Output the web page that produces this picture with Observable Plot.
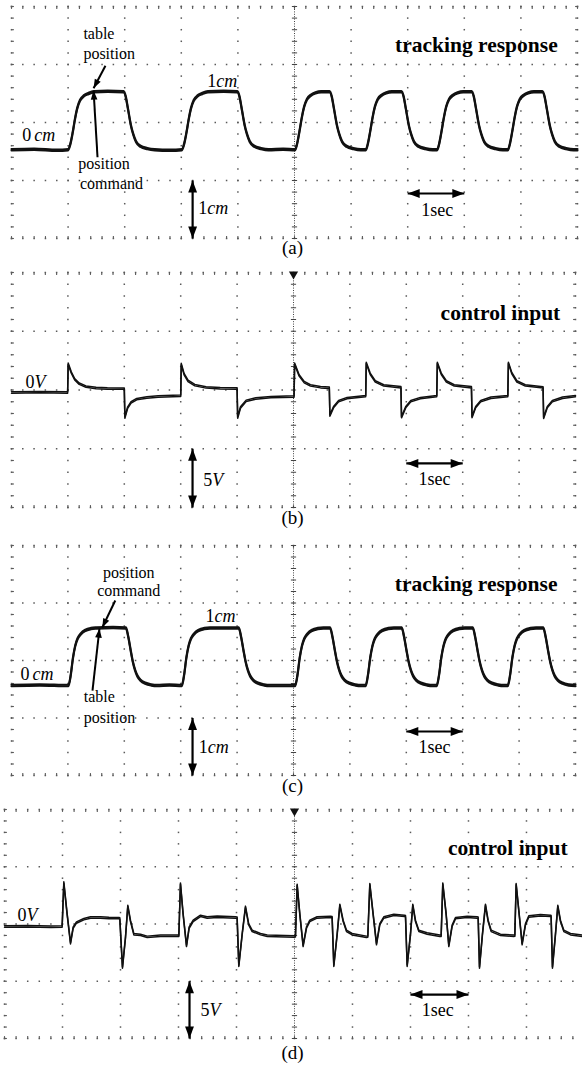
<!DOCTYPE html>
<html>
<head>
<meta charset="utf-8">
<script src="https://cdn.jsdelivr.net/npm/d3@7"></script>
<script src="https://cdn.jsdelivr.net/npm/@observablehq/plot@0.6"></script>
<style>
  body { margin: 0; background: #fff; }
  #chart { width: 582px; }
  #chart svg { display: block; }
</style>
</head>
<body>
<div id="chart"></div>
<script>
// ---------------- DATA ----------------
// time in seconds, position in cm
const trackA = [
  [0,0],[0.4,0.01],[0.8,-0.01],
  [1.0,0],[1.04,0.1],[1.08,0.29],[1.12,0.52],[1.16,0.71],[1.21,0.85],[1.28,0.93],[1.36,0.97],[1.46,1.0],[1.7,1.01],
  [1.98,1.0],[2.02,0.91],[2.05,0.75],[2.08,0.58],[2.11,0.42],[2.15,0.27],[2.2,0.14],[2.28,0.06],[2.4,0.02],[2.53,0],[2.8,-0.01],
  [3.01,0],[3.05,0.1],[3.09,0.29],[3.13,0.52],[3.17,0.71],[3.22,0.85],[3.29,0.93],[3.37,0.97],[3.47,1.0],[3.75,1.01],
  [3.99,1.0],[4.03,0.91],[4.06,0.75],[4.09,0.58],[4.12,0.42],[4.16,0.27],[4.21,0.14],[4.29,0.06],[4.41,0.02],[4.54,0],[4.8,0.01],
  [5.01,0],[5.05,0.12],[5.09,0.33],[5.13,0.56],[5.17,0.74],[5.22,0.87],[5.29,0.94],[5.37,0.98],[5.47,1.0],
  [5.62,1.0],[5.66,0.91],[5.69,0.75],[5.72,0.58],[5.75,0.42],[5.79,0.27],[5.84,0.14],[5.92,0.06],[6.04,0.02],[6.17,0],
  [6.26,0],[6.3,0.12],[6.34,0.33],[6.38,0.56],[6.42,0.74],[6.47,0.87],[6.54,0.94],[6.62,0.98],[6.72,1.0],
  [6.89,1.0],[6.93,0.91],[6.96,0.75],[6.99,0.58],[7.02,0.42],[7.06,0.27],[7.11,0.14],[7.19,0.06],[7.31,0.02],[7.44,0],
  [7.52,0],[7.56,0.12],[7.6,0.33],[7.64,0.56],[7.68,0.74],[7.73,0.87],[7.8,0.94],[7.88,0.98],[7.98,1.0],
  [8.13,1.0],[8.17,0.91],[8.2,0.75],[8.23,0.58],[8.26,0.42],[8.3,0.27],[8.35,0.14],[8.43,0.06],[8.55,0.02],[8.68,0],
  [8.77,0],[8.81,0.12],[8.85,0.33],[8.89,0.56],[8.93,0.74],[8.98,0.87],[9.05,0.94],[9.13,0.98],[9.23,1.0],
  [9.38,1.0],[9.42,0.91],[9.45,0.75],[9.48,0.58],[9.51,0.42],[9.55,0.27],[9.6,0.14],[9.68,0.06],[9.8,0.02],[9.93,0],[10,0]
];

// time in seconds, control voltage in V
const ctrlB = [
  [0,0],[0.5,0.03],[0.995,0],
  [1.005,2.45],[1.06,1.7],[1.12,1.13],[1.2,0.75],[1.32,0.5],[1.5,0.38],[1.7,0.34],[1.99,0.33],
  [2.0,0.33],[2.01,-2.13],[2.06,-1.28],[2.12,-0.85],[2.22,-0.57],[2.4,-0.43],[2.6,-0.34],[2.99,-0.28],
  [3.0,-0.28],[3.01,2.42],[3.06,1.56],[3.13,0.99],[3.25,0.62],[3.45,0.43],[3.7,0.36],[3.99,0.34],
  [4.0,0.34],[4.01,-2.13],[4.06,-1.28],[4.16,-0.71],[4.33,-0.51],[4.6,-0.4],[5.01,-0.34],
  [5.02,2.44],[5.1,1.45],[5.19,0.88],[5.3,0.6],[5.48,0.45],[5.635,0.4],
  [5.645,-1.96],[5.71,-1.25],[5.8,-0.74],[5.95,-0.48],[6.28,-0.31],
  [6.29,2.52],[6.36,1.59],[6.45,0.94],[6.6,0.6],[6.905,0.45],
  [6.915,-2.1],[6.99,-1.25],[7.08,-0.74],[7.25,-0.48],[7.54,-0.31],
  [7.55,2.52],[7.62,1.59],[7.71,0.94],[7.85,0.6],[8.155,0.45],
  [8.165,-2.1],[8.23,-1.25],[8.32,-0.74],[8.5,-0.45],[8.8,-0.31],
  [8.81,2.52],[8.87,1.65],[8.96,0.94],[9.11,0.6],[9.425,0.43],
  [9.435,-2.16],[9.5,-1.25],[9.59,-0.74],[9.77,-0.45],[10,-0.31]
];

// time in seconds, position in cm
const trackC = [
  [0,0],[0.5,0.01],[1.01,0],[1.05,0.18],[1.09,0.48],[1.13,0.69],[1.17,0.81],[1.23,0.9],[1.31,0.96],[1.41,0.99],[1.51,1.0],[1.8,1.01],
  [2.03,1.0],[2.07,0.85],[2.11,0.63],[2.15,0.42],[2.19,0.27],[2.23,0.17],[2.29,0.09],[2.37,0.04],[2.48,0.01],[2.58,0],[2.8,0.01],
  [3.02,0],[3.06,0.18],[3.1,0.48],[3.14,0.69],[3.18,0.81],[3.24,0.9],[3.32,0.96],[3.42,0.99],[3.52,1.0],[3.8,1.0],
  [4.03,1.0],[4.07,0.85],[4.11,0.63],[4.15,0.42],[4.19,0.27],[4.23,0.17],[4.29,0.09],[4.37,0.04],[4.48,0.01],[4.58,0],[4.8,0],
  [5.03,0],[5.07,0.18],[5.11,0.48],[5.15,0.69],[5.19,0.81],[5.25,0.9],[5.33,0.96],[5.43,0.99],[5.53,1.0],
  [5.65,1.0],[5.69,0.85],[5.73,0.63],[5.77,0.42],[5.81,0.27],[5.85,0.17],[5.91,0.09],[5.99,0.04],[6.1,0.01],[6.2,0],
  [6.28,0],[6.32,0.18],[6.36,0.48],[6.4,0.69],[6.44,0.81],[6.5,0.9],[6.58,0.96],[6.68,0.99],[6.78,1.0],
  [6.92,1.0],[6.96,0.85],[7.0,0.63],[7.04,0.42],[7.08,0.27],[7.12,0.17],[7.18,0.09],[7.26,0.04],[7.37,0.01],[7.47,0],
  [7.54,0],[7.58,0.18],[7.62,0.48],[7.66,0.69],[7.7,0.81],[7.76,0.9],[7.84,0.96],[7.94,0.99],[8.04,1.0],
  [8.18,1.0],[8.22,0.85],[8.26,0.63],[8.3,0.42],[8.34,0.27],[8.38,0.17],[8.44,0.09],[8.52,0.04],[8.63,0.01],[8.73,0],
  [8.8,0],[8.84,0.18],[8.88,0.48],[8.92,0.69],[8.96,0.81],[9.02,0.9],[9.1,0.96],[9.2,0.99],[9.3,1.0],
  [9.43,1.0],[9.47,0.85],[9.51,0.63],[9.55,0.42],[9.59,0.27],[9.63,0.17],[9.69,0.09],[9.77,0.04],[9.88,0.01],[10,0]
];

// time in seconds, control voltage in V
const ctrlD = [
  [0,0],[0.4,0.03],[0.8,-0.02],[0.994,0],
  [1.023,3.84],[1.08,1.08],[1.138,-1.46],[1.184,-0.09],[1.241,0.35],[1.368,0.64],[1.483,0.79],[1.655,0.79],[1.8,0.75],[1.971,0.73],
  [1.988,0.7],[2.034,-3.58],[2.086,-0.96],[2.126,1.8],[2.172,0.49],[2.23,-0.67],[2.345,-0.73],[2.46,-0.9],[2.69,-0.81],[2.977,-0.81],
  [3.006,-0.8],[3.034,3.75],[3.08,1.08],[3.138,-1.69],[3.184,-0.09],[3.253,0.49],[3.379,0.93],[3.494,0.79],[3.667,0.85],[3.983,0.79],
  [4.011,0.78],[4.04,-3.43],[4.098,-0.67],[4.155,1.72],[4.21,0.2],[4.27,-0.38],[4.414,-0.67],[4.53,-0.81],[4.99,-0.87],
  [5.017,-0.85],[5.046,3.64],[5.092,1.08],[5.149,-1.69],[5.207,-0.09],[5.264,0.49],[5.39,0.79],[5.62,0.84],
  [5.649,0.82],[5.678,-3.43],[5.736,-0.67],[5.782,1.89],[5.839,0.49],[5.897,-0.38],[5.994,-0.67],[6.241,-0.9],
  [6.264,-0.88],[6.299,3.7],[6.356,1.08],[6.414,-1.54],[6.471,0.2],[6.54,0.79],[6.713,1.02],[6.897,0.93],
  [6.914,0.9],[6.943,-3.43],[7.0,-0.67],[7.04,1.89],[7.086,0.49],[7.144,-0.38],[7.287,-0.61],[7.506,-0.81],
  [7.529,-0.8],[7.557,3.75],[7.615,1.08],[7.661,-1.69],[7.718,0.06],[7.776,0.73],[7.977,0.84],[8.149,0.79],
  [8.167,0.77],[8.19,-3.58],[8.241,-0.67],[8.293,1.89],[8.339,0.49],[8.391,-0.38],[8.552,-0.73],[8.782,-0.81],
  [8.799,-0.8],[8.822,3.7],[8.874,1.08],[8.925,-1.54],[8.983,0.2],[9.04,0.87],[9.241,0.99],[9.414,0.93],
  [9.425,0.9],[9.448,-3.58],[9.5,-0.67],[9.54,1.8],[9.586,0.49],[9.644,-0.38],[9.759,-0.67],[9.966,-0.81]
];

// text labels (content)
const panelTags = ["(a)", "(b)", "(c)", "(d)"];
const panelTitles = ["tracking response", "control input", "tracking response", "control input"];

// ---------------- LAYOUT / STYLE ----------------
const FONT = "'Liberation Serif','Times New Roman',Times,serif";

// arrow head symbol: tip at origin, pointing up
const headSymbol = {
  draw(ctx, size) {
    const k = Math.sqrt(size / Math.PI);
    ctx.moveTo(0, 0);
    ctx.lineTo(-0.37 * k, k);
    ctx.lineTo(0.37 * k, k);
    ctx.closePath();
  }
};
// trigger marker (downward triangle, top edge at origin)
const triggerSymbol = {
  draw(ctx) {
    ctx.moveTo(-4.6, -1);
    ctx.lineTo(4.6, -1);
    ctx.lineTo(0, 7);
    ctx.closePath();
  }
};

const panels = [
  {
    data: trackA, curve: "monotone-x", tag: panelTags[0], title: panelTitles[0],
    height: 262, mt: 6, mb: 24, ml: 11, mr: 5, xDomain: [0, 10], yDomain: [-1.53, 2.47], div: 1,
    trigger: false, tagDy: 9, tagDx: -2,
    titlePos: {t: 9.65, v: 1.80},
    labels: [
      {t: 1.27, v: 2.0, text: "table", anchor: "start"},
      {t: 1.27, v: 1.66, text: "position", anchor: "start"},
      {t: 1.18, v: -0.24, text: "position", anchor: "start"},
      {t: 1.21, v: -0.58, text: "command", anchor: "start"},
      {t: 0.19, v: 0.25, text: "0 cm", anchor: "start", unit: true},
      {t: 3.46, v: 1.19, text: "1cm", anchor: "start", unit: true},
      {t: 3.3, v: -1.01, text: "1cm", anchor: "start", unit: true},
      {t: 7.52, v: -1.05, text: "1sec", anchor: "middle", unit: true}
    ],
    pointers: [
      {t1: 1.66, v1: 1.45, t2: 1.45, v2: 1.06},
      {t1: 1.52, v1: -0.13, t2: 1.45, v2: 1.02}
    ],
    vArrow: {t: 3.2, v1: -1.53, v2: -0.53},
    hArrow: {v: -0.754, t1: 7, t2: 8}
  },
  {
    data: ctrlB, curve: "linear", tag: panelTags[1], title: panelTitles[1],
    height: 267, mt: 10, mb: 22, ml: 11, mr: 7, xDomain: [0, 10], yDomain: [-9.79, 10.21], div: 5,
    trigger: true, tagDy: 10, tagDx: -1,
    titlePos: {t: 9.73, v: 6.72},
    labels: [
      {t: 0.25, v: 0.85, text: "0V", anchor: "start", unit: true},
      {t: 3.4, v: -7.49, text: "5V", anchor: "start", unit: true},
      {t: 7.5, v: -7.4, text: "1sec", anchor: "middle", unit: true}
    ],
    pointers: [],
    vArrow: {t: 3.21, v1: -9.79, v2: -4.79},
    hArrow: {v: -6.04, t1: 7, t2: 8}
  },
  {
    data: trackC, curve: "monotone-x", tag: panelTags[2], title: panelTitles[2],
    height: 267, mt: 16, mb: 21, ml: 11, mr: 7, xDomain: [0, 10], yDomain: [-1.565, 2.435], div: 1,
    trigger: false, tagDy: 10, tagDx: -1,
    titlePos: {t: 9.68, v: 1.77},
    labels: [
      {t: 2.08, v: 1.965, text: "position", anchor: "middle"},
      {t: 2.08, v: 1.65, text: "command", anchor: "middle"},
      {t: 1.28, v: -0.19, text: "table", anchor: "start"},
      {t: 1.28, v: -0.557, text: "position", anchor: "start"},
      {t: 0.16, v: 0.19, text: "0 cm", anchor: "start", unit: true},
      {t: 3.44, v: 1.2, text: "1cm", anchor: "start", unit: true},
      {t: 3.32, v: -1.08, text: "1cm", anchor: "start", unit: true},
      {t: 7.5, v: -1.08, text: "1sec", anchor: "middle", unit: true}
    ],
    pointers: [
      {t1: 1.84, v1: 1.478, t2: 1.61, v2: 1.009},
      {t1: 1.436, v1: -0.087, t2: 1.56, v2: 0.99}
    ],
    vArrow: {t: 3.21, v1: -1.565, v2: -0.565},
    hArrow: {v: -0.8, t1: 7, t2: 8}
  },
  {
    data: ctrlD, curve: "linear", tag: panelTags[3], title: panelTitles[3],
    height: 270, mt: 13, mb: 28, ml: 4, mr: 0, xDomain: [0, 9.966], yDomain: [-9.78, 10.22], div: 5,
    trigger: true, tagDy: 14, tagDx: -1,
    titlePos: {t: 9.71, v: 6.81},
    labels: [
      {t: 0.224, v: 0.96, text: "0V", anchor: "start", unit: true},
      {t: 3.38, v: -7.34, text: "5V", anchor: "start", unit: true},
      {t: 7.47, v: -7.34, text: "1sec", anchor: "middle", unit: true}
    ],
    pointers: [],
    vArrow: {t: 3.19, v1: -9.78, v2: -4.78},
    hArrow: {v: -5.94, t1: 7, t2: 8}
  }
];

function makePanel(cfg) {
  const [x0, x1] = cfg.xDomain, [y0, y1] = cfg.yDomain, div = cfg.div;
  const iw = 582 - cfg.ml - cfg.mr, ih = cfg.height - cfg.mt - cfg.mb;
  const kx = iw / (x1 - x0), ky = ih / (y1 - y0);
  const eps = 1e-9;

  const majorX = d3.range(0, 11).filter(v => v <= x1 + eps);
  const minorX = d3.range(0, 51).map(i => i / 5).filter(v => v <= x1 + eps);
  const rows = d3.range(0, 5).map(j => y0 + j * div);
  const minorY = d3.range(0, 21).map(j => y0 + j * div / 5);

  const gridDots = [];
  rows.forEach(y => minorX.forEach(x => gridDots.push({x, y})));
  majorX.filter(x => x !== 5).forEach(x => minorY.forEach(y => gridDots.push({x, y})));

  const edgeH = [];
  minorY.forEach(y => {
    edgeH.push({x1: x0, x2: x0 + 2.4 / kx, y});
    if (x1 >= 10 - eps) edgeH.push({x1: 10 - 2.4 / kx, x2: 10, y});
  });
  const edgeV = [];
  minorX.forEach(x => {
    edgeV.push({x, y1: y1, y2: y1 - 2.4 / ky});
    edgeV.push({x, y1: y0, y2: y0 + 2.4 / ky});
  });
  const centerTicks = minorY.map(y => ({x1: 5 - 2.6 / kx, x2: 5 + 2.6 / kx, y}));

  // arrows
  const shafts = [
    {x1: cfg.vArrow.t, y1: cfg.vArrow.v1, x2: cfg.vArrow.t, y2: cfg.vArrow.v2},
    {x1: cfg.hArrow.t1, y1: cfg.hArrow.v, x2: cfg.hArrow.t2, y2: cfg.hArrow.v}
  ];
  const heads = [
    {x: cfg.vArrow.t, y: cfg.vArrow.v1, rot: 180},
    {x: cfg.vArrow.t, y: cfg.vArrow.v2, rot: 0},
    {x: cfg.hArrow.t1, y: cfg.hArrow.v, rot: -90},
    {x: cfg.hArrow.t2, y: cfg.hArrow.v, rot: 90}
  ];
  const ptrShafts = cfg.pointers.map(p => ({x1: p.t1, y1: p.v1, x2: p.t2, y2: p.v2}));
  const ptrHeads = cfg.pointers.map(p => {
    const dx = (p.t2 - p.t1) * kx, dy = -(p.v2 - p.v1) * ky;
    return {x: p.t2, y: p.v2, rot: Math.atan2(dx, -dy) * 180 / Math.PI};
  });

  const line = cfg.data.map(([t, v]) => ({t, v}));
  const thin = cfg.curve === "linear";
  const traceOpts = (dy) => ({
    x: "t", y: "v", stroke: "#111", strokeWidth: thin ? 1.5 : 2.1, dy,
    curve: cfg.curve, strokeLinejoin: "round"
  });

  const marks = [
    Plot.dot(gridDots, {x: "x", y: "y", r: 0.85, symbol: "square", fill: "#5a5a5a", stroke: "none"}),
    Plot.link(edgeH, {x1: "x1", x2: "x2", y1: "y", y2: "y", stroke: "#5a5a5a", strokeWidth: 1.1}),
    Plot.link(edgeV, {x1: "x", x2: "x", y1: "y1", y2: "y2", stroke: "#5a5a5a", strokeWidth: 1.1}),
    Plot.ruleX([5], {y1: y0, y2: y1, stroke: "#444", strokeWidth: 1, strokeDasharray: "1,1.4"}),
    Plot.link(centerTicks, {x1: "x1", x2: "x2", y1: "y", y2: "y", stroke: "#444", strokeWidth: 1}),
    // trace, drawn twice with a small vertical offset to mimic the noisy oscilloscope trace
    Plot.line(line, traceOpts(-0.7)),
    Plot.line(line, traceOpts(0.7)),
    Plot.link(shafts, {x1: "x1", y1: "y1", x2: "x2", y2: "y2", stroke: "#000", strokeWidth: 2.2}),
    Plot.dot(heads, {x: "x", y: "y", rotate: "rot", symbol: headSymbol, r: 12, fill: "#000", stroke: "none"}),
    Plot.link(ptrShafts, {x1: "x1", y1: "y1", x2: "x2", y2: "y2", stroke: "#000", strokeWidth: 2}),
    Plot.dot(ptrHeads, {x: "x", y: "y", rotate: "rot", symbol: headSymbol, r: 9, fill: "#000", stroke: "none"}),
    ...cfg.labels.map(l => Plot.text([l], {
      x: "t", y: "v", text: "text", textAnchor: l.anchor,
      fontFamily: FONT, fontSize: l.unit ? 18 : 16, fill: "#000"
    })),
    Plot.text([cfg.title], {
      x: () => cfg.titlePos.t, y: () => cfg.titlePos.v, text: d => d, textAnchor: "end",
      fontFamily: FONT, fontSize: 21.5, fontWeight: "bold", fill: "#000"
    }),
    Plot.text([cfg.tag], {
      frameAnchor: "bottom", lineAnchor: "middle", dy: cfg.tagDy, dx: cfg.tagDx, text: d => d,
      fontFamily: FONT, fontSize: 19, fill: "#000"
    })
  ];
  if (cfg.trigger) {
    marks.push(Plot.dot([{x: 5, y: y1}], {x: "x", y: "y", symbol: triggerSymbol, r: 4, fill: "#111", stroke: "none"}));
  }

  const svg = Plot.plot({
    width: 582, height: cfg.height,
    marginTop: cfg.mt, marginBottom: cfg.mb, marginLeft: cfg.ml, marginRight: cfg.mr,
    x: {domain: cfg.xDomain, axis: null},
    y: {domain: cfg.yDomain, axis: null},
    style: {background: "#fff", fontFamily: FONT, overflow: "visible"},
    marks
  });

  // italic units (cm, V) as in the original figure
  svg.querySelectorAll("text").forEach(el => {
    const m = /^(\d+)(\s?)(cm|V)$/.exec(el.textContent);
    if (m) {
      el.textContent = m[1];
      const ts = document.createElementNS("http://www.w3.org/2000/svg", "tspan");
      ts.setAttribute("font-style", "italic");
      if (m[2]) ts.setAttribute("dx", "3");
      ts.textContent = m[3];
      el.appendChild(ts);
    }
  });
  return svg;
}

const root = document.getElementById("chart");
panels.forEach(cfg => root.appendChild(makePanel(cfg)));
</script>
</body>
</html>
